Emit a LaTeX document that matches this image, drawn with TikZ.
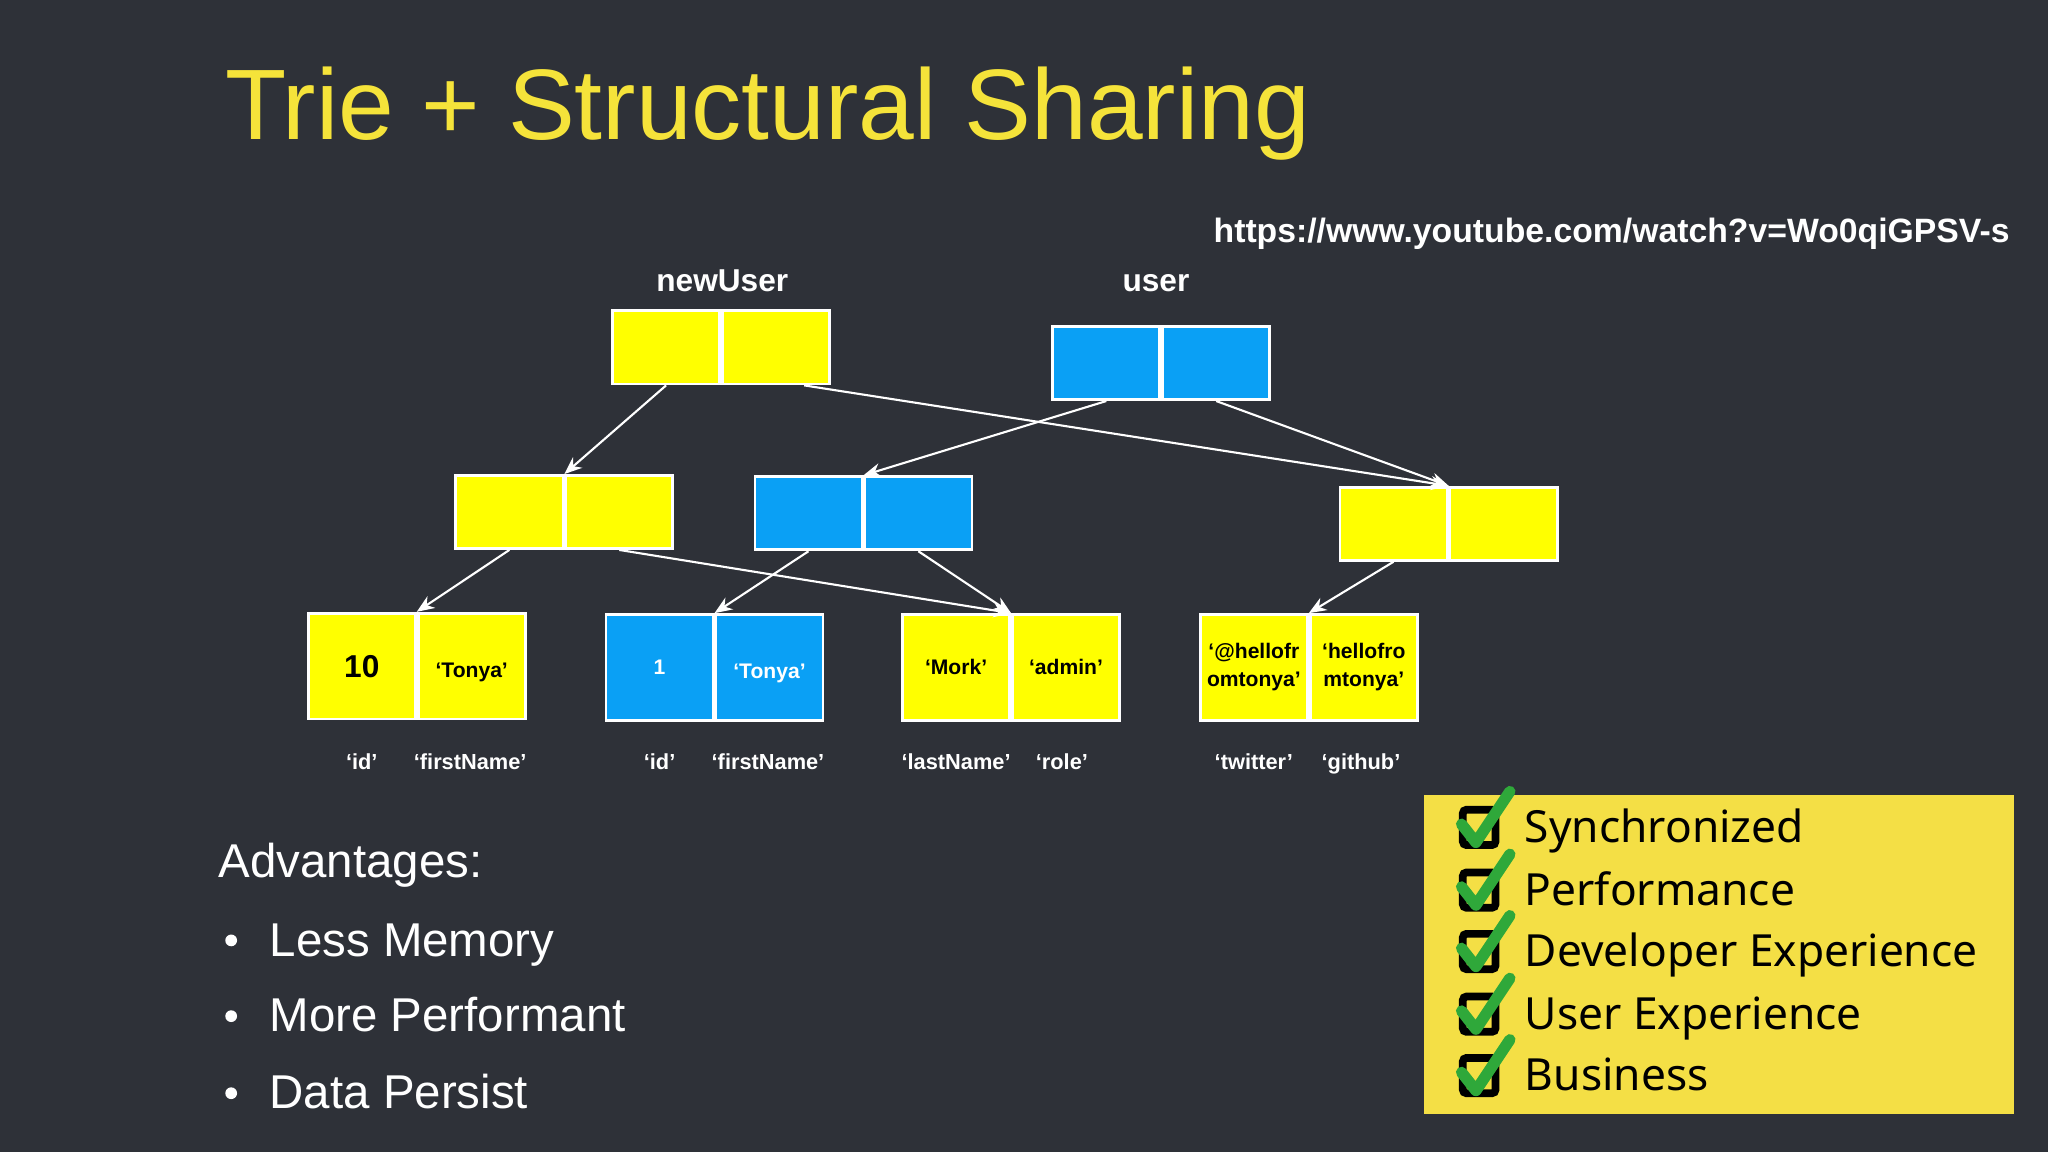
\documentclass[tikz,border=0pt]{standalone}
\usepackage{fontspec}
\setmainfont{Liberation Sans}
\newfontfamily\handfont{Noto Sans}
\usetikzlibrary{positioning,arrows.meta}
\definecolor{bgdark}{HTML}{2E3138}
\definecolor{titleyellow}{HTML}{F5E33A}
\definecolor{cellyellow}{HTML}{FFFF00}
\definecolor{cellblue}{HTML}{0AA0F5}
\definecolor{notebox}{HTML}{F4DF45}
\definecolor{tickgreen}{HTML}{2FA83A}
\begin{document}
\begin{tikzpicture}[x=0.013061cm, y=-0.013061cm,
        cell/.style={rectangle, draw=white, line width=0.8pt, minimum width=1.071cm, minimum height=0.731cm, inner sep=0pt},
        leaf/.style={cell, minimum height=1.058cm, font=\fontsize{6}{8}\selectfont\bfseries, align=center},
        key/.style={font=\fontsize{6.2}{8}\selectfont\bfseries, text=white, text height=1.5ex, text depth=.3ex},
        arrow/.style={-{Stealth[length=5pt,width=4pt]}, white, line width=0.6pt},
        item/.style={anchor=base west, text=white, font=\fontsize{13.5}{16}\selectfont},
        check/.style={anchor=base west, font=\handfont\fontsize{12.6}{16}\selectfont}
    ]
        \fill[bgdark] (0,0) rectangle (1568,882);
        \useasboundingbox (0,0) rectangle (1568,882);

        % Title and source
        \node[anchor=base west, text=titleyellow, font=\fontsize{28.5}{34}\selectfont] (title) at (163,107) {Trie + Structural Sharing};
        \node[anchor=base east, text=white, font=\fontsize{9.6}{12}\selectfont\bfseries] (url) at (1548,186) {https://www.youtube.com/watch?v=Wo0qiGPSV-s};

        % Roots
        \node[cell, fill=cellyellow] (nuA) at (510,266) {};
        \node[cell, fill=cellyellow, right=0pt of nuA] (nuB) {};
        \node[cell, fill=cellblue] (usA) at (847,278) {};
        \node[cell, fill=cellblue, right=0pt of usA] (usB) {};
        \node[anchor=base, text=white, font=\fontsize{9}{11}\selectfont\bfseries] (nuLabel) at (553,223) {newUser};
        \node[anchor=base, text=white, font=\fontsize{9}{11}\selectfont\bfseries] (usLabel) at (885,223) {user};

        % Inner nodes
        \node[cell, fill=cellyellow] (mlA) at (390,392) {};
        \node[cell, fill=cellyellow, right=0pt of mlA] (mlB) {};
        \node[cell, fill=cellblue] (mbA) at (619,393) {};
        \node[cell, fill=cellblue, right=0pt of mbA] (mbB) {};
        \node[cell, fill=cellyellow] (rtA) at (1067,401) {};
        \node[cell, fill=cellyellow, right=0pt of rtA] (rtB) {};

        % Leaves
        \node[leaf, fill=cellyellow, font=\fontsize{9}{11}\selectfont\bfseries] (l1a) at (277,510) {10};
        \node[leaf, fill=cellyellow, right=0pt of l1a, text height=1.5ex, text depth=.3ex] (l1b) {‘Tonya’};
        \node[leaf, fill=cellblue, text=white] (l2a) at (505,511) {1};
        \node[leaf, fill=cellblue, text=white, right=0pt of l2a, text height=1.5ex, text depth=.3ex] (l2b) {‘Tonya’};
        \node[leaf, fill=cellyellow] (l3a) at (732,511) {‘Mork’};
        \node[leaf, fill=cellyellow, right=0pt of l3a] (l3b) {‘admin’};
        \node[leaf, fill=cellyellow] (l4a) at (960,511) {‘@hellofr\\omtonya’};
        \node[leaf, fill=cellyellow, right=0pt of l4a] (l4b) {‘hellofro\\mtonya’};

        % Keys
        \node[key] (k1a) at (277,581) {‘id’};
        \node[key] (k1b) at (360,581) {‘firstName’};
        \node[key] (k2a) at (505,581) {‘id’};
        \node[key] (k2b) at (588,581) {‘firstName’};
        \node[key] (k3a) at (732,581) {‘lastName’};
        \node[key] (k3b) at (813,581) {‘role’};
        \node[key] (k4a) at (960,581) {‘twitter’};
        \node[key] (k4b) at (1042,581) {‘github’};

        % Connect nodes
        \draw[arrow] (nuA.south) -- (mlA.north east);
        \draw[arrow] ([xshift=8pt]nuB.south) -- (rtA.north east);
        \draw[arrow] (usA.south) -- (mbA.north east);
        \draw[arrow] (usB.south) -- (rtA.north east);
        \draw[arrow] (mlA.south) -- (l1a.north east);
        \draw[arrow] (mlB.south) -- (l3a.north east);
        \draw[arrow] (mbA.south) -- (l2a.north east);
        \draw[arrow] (mbB.south) -- (l3a.north east);
        \draw[arrow] (rtA.south) -- (l4a.north east);

        % Advantages
        \node[item] (adv) at (158,672) {Advantages:};
        \foreach \y/\t [count=\i] in {720/Less Memory, 778/More Performant, 837/Data Persist} {
            \fill[white] (177,\y) circle (4.5);
            \node[item] (adv\i) at (197,\y+12) {\t};
        }

        % Checklist
        \fill[notebox] (1090,609) rectangle (1542,853);
        \foreach \y/\t [count=\i] in {633/Synchronized, 681/Performance, 728/Developer Experience, 776/User Experience, 823/Business} {
            \draw[black, line width=2.2pt, rounded corners=1pt] (1120,\y-13) rectangle (1145,\y+14);
            \draw[tickgreen, line width=3.2pt, line cap=round, line join=round] (1119,\y-2) -- (1130,\y+12) -- (1156,\y-27);
            \node[check] (chk\i) at (1158,\y+12) {\t};
        }
\end{tikzpicture}
\end{document}
